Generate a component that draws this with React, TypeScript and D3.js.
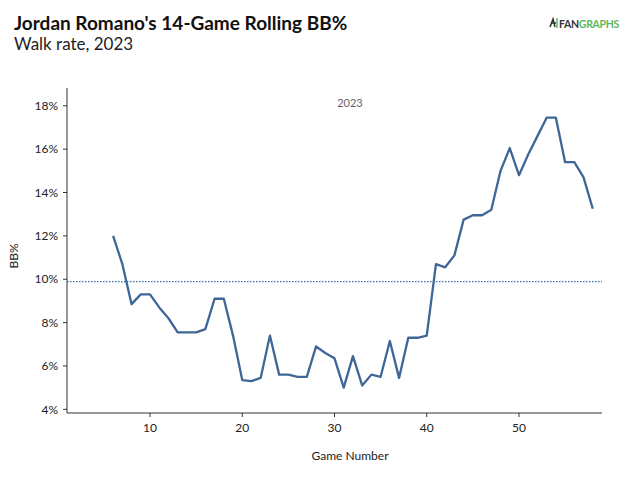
import React from "react";
import * as d3 from "d3";

const games = [6,7,8,9,10,11,12,13,14,15,16,17,18,19,20,21,22,23,24,25,26,27,28,29,30,31,32,33,34,35,36,37,38,39,40,41,42,43,44,45,46,47,48,49,50,51,52,53,54,55,56,57,58];
const bbPct = [12.0,10.7,8.85,9.3,9.3,8.7,8.2,7.55,7.55,7.55,7.7,9.1,9.1,7.4,5.35,5.3,5.45,7.4,5.6,5.6,5.5,5.5,6.9,6.6,6.35,5.0,6.45,5.1,5.6,5.5,7.15,5.45,7.3,7.3,7.4,10.7,10.55,11.1,12.75,12.95,12.95,13.2,15.0,16.05,14.8,15.75,16.6,17.45,17.45,15.4,15.4,14.7,13.25];
const leagueAvg = 9.89;
const xTicks = [10,20,30,40,50];
const yTicks = [4,6,8,10,12,14,16,18];

const W = 640, H = 479;
const left = 67, right = 602, top = 88, bottom = 413;

export default function App() {
  const x = d3.scaleLinear().domain([1, 59]).range([left, right]);
  const y = d3.scaleLinear().domain([3.83, 18.82]).range([bottom, top]);
  const data = games.map((g, i) => ({ g, v: bbPct[i] }));
  const line = d3.line<{ g: number; v: number }>().x(d => x(d.g)).y(d => y(d.v));
  const font = "Lato, 'Open Sans', sans-serif";
  return (
    <svg width={W} height={H} style={{ position: "absolute", left: 0, top: 0, background: "#fff" }} fontFamily={font}>
      <text x={14} y={30} fontSize={19} fontWeight={700} fill="#111">Jordan Romano's 14-Game Rolling BB%</text>
      <text x={14} y={50} fontSize={17} fill="#222">Walk rate, 2023</text>
      <g transform="translate(548,17)">
        <path d="M2 10 L5 2 L7 10 M4 6 L8 6" stroke="#2f2f2f" strokeWidth={1.5} fill="none" />
        <path d="M9 1 L9 11" stroke="#5cb85c" strokeWidth={1.5} />
        <text x={11} y={10.5} fontSize={10.5} fontWeight={700} letterSpacing={-0.3}>
          <tspan fill="#333">FAN</tspan><tspan fill="#5cb85c">GRAPHS</tspan>
        </text>
      </g>
      <text x={350} y={107} textAnchor="middle" fontSize={11} fill="#666">2023</text>
      <line x1={left} x2={right} y1={y(leagueAvg)} y2={y(leagueAvg)} stroke="#3b6fb6" strokeWidth={1.3} strokeDasharray="1.5,1.5" />
      <path d={line(data) || ""} fill="none" stroke="#3e6797" strokeWidth={2.3} strokeLinejoin="round" />
      <line x1={left} x2={left} y1={top} y2={bottom} stroke="#333" strokeWidth={1} />
      <line x1={left} x2={right} y1={bottom} y2={bottom} stroke="#333" strokeWidth={1} />
      {yTicks.map(t => (
        <g key={t}>
          <line x1={left - 4} x2={left} y1={y(t)} y2={y(t)} stroke="#333" />
          <text x={left - 9} y={y(t)} dy="0.35em" textAnchor="end" fontSize={12} fill="#222">{t}%</text>
        </g>
      ))}
      {xTicks.map(t => (
        <g key={t}>
          <line x1={x(t)} x2={x(t)} y1={bottom} y2={bottom + 4} stroke="#333" />
          <text x={x(t)} y={432} textAnchor="middle" fontSize={12} fill="#222">{t}</text>
        </g>
      ))}
      <text transform="translate(18,256) rotate(-90)" textAnchor="middle" fontSize={12} fill="#222">BB%</text>
      <text x={350} y={460} textAnchor="middle" fontSize={12} fill="#222">Game Number</text>
    </svg>
  );
}
